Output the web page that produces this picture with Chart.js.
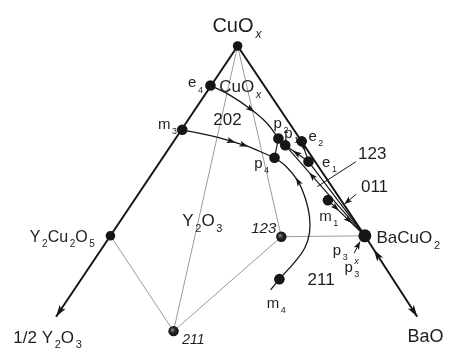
<!DOCTYPE html>
<html>
<head>
<meta charset="utf-8">
<style>
  html, body { margin: 0; padding: 0; background: #fff; }
  canvas { display: block; }
</style>
<script src="https://cdn.jsdelivr.net/npm/chart.js@4/dist/chart.umd.min.js"></script>
</head>
<body>
<canvas id="diagram" width="450" height="355"></canvas>
<script>
// Liquidus projection of the Y2O3 - BaO - CuOx system.
// Diagram plane: x to the right, y upward.

// solid phases
const phaseNames = ['CuOx', 'Y2Cu2O5', 'BaCuO2', '123', '211'];
const phaseX = [238, 107, 369, 283, 172];
const phaseY = [314, 117, 117, 116, 18];

// invariant points of the liquidus surface
const invNames = ['e4', 'm3', 'p2', 'p1', 'e2', 'e1', 'p4', 'm1', 'm4'];
const invX = [210, 181, 280, 287, 304, 311, 276, 331, 281];
const invY = [273, 227, 218, 211, 215, 194, 198, 154, 72];

// open ends of the two oxide axes
const endNames = ['1/2 Y2O3', 'BaO'];
const endX = [51, 423];
const endY = [33, 33];

// univariant curves
const curveE4P2X = [210, 230, 252, 268, 280];
const curveE4P2Y = [273, 263, 248, 234, 218];
const curveM3P4X = [181, 210, 232, 245, 260, 276];
const curveM3P4Y = [227, 221, 215, 211, 205, 198];
const curveM4P4X = [272, 281, 297, 307, 312, 312, 308, 300, 288, 276];
const curveM4P4Y = [61, 72, 90, 104, 120, 137, 155, 174, 189, 198];

// tie lines between solid phases
const tieFrom = ['CuOx', 'CuOx', 'Y2Cu2O5', '211', '123'];
const tieTo = ['211', '123', '211', '123', 'BaCuO2'];

// straight boundary lines between invariant points
const boundFrom = ['p4', 'p2', 'p1', 'e2', 'e1', 'p1', 'm1'];
const boundTo = ['p2', 'p1', 'e1', 'e1', 'BaCuO2', 'BaCuO2', 'BaCuO2'];

const P = {};
phaseNames.forEach((n, i) => { P[n] = { x: phaseX[i], y: phaseY[i] }; });
invNames.forEach((n, i) => { P[n] = { x: invX[i], y: invY[i] }; });
endNames.forEach((n, i) => { P[n] = { x: endX[i], y: endY[i] }; });

const zip = (xs, ys) => xs.map((x, i) => ({ x, y: ys[i] }));
const curves = {
  e4p2: zip(curveE4P2X, curveE4P2Y),
  m3p4: zip(curveM3P4X, curveM3P4Y),
  m4p4: zip(curveM4P4X, curveM4P4Y)
};

const INK = '#161616';
const GREY = '#9a9a9a';

function lineSet(points, color, width, tension, order) {
  return {
    data: points, showLine: true, borderColor: color, borderWidth: width,
    pointRadius: 0, tension: tension || 0, clip: false, fill: false, order: order
  };
}

const datasets = [];
// thin grey tie lines
tieFrom.forEach((a, i) => datasets.push(lineSet([P[a], P[tieTo[i]]], GREY, 1, 0, 3)));
// heavy binary edges
datasets.push(lineSet([P['1/2 Y2O3'], P['Y2Cu2O5'], P['CuOx'], P['BaCuO2'], P['BaO']], INK, 2, 0, 2));
// boundary lines and curves
boundFrom.forEach((a, i) => datasets.push(lineSet([P[a], P[boundTo[i]]], INK, 1.2, 0, 2)));
Object.values(curves).forEach(c => datasets.push(lineSet(c, INK, 1.3, 0.4, 2)));

// points; the two yttrium cuprates get a shaded, bead-like fill
const dotNames = phaseNames.concat(invNames);
const dotRadius = { CuOx: 4.8, Y2Cu2O5: 4.8, BaCuO2: 6.5, '123': 5.2, '211': 5.2 };
const shaded = ['123', '211'];
datasets.push({
  data: dotNames.map(n => P[n]),
  pointRadius: dotNames.map(n => dotRadius[n] || 5.3),
  pointBackgroundColor(ctx) {
    const name = dotNames[ctx.dataIndex];
    if (!shaded.includes(name) || !ctx.chart.chartArea) return INK;
    const c = ctx.chart.ctx;
    const x = ctx.chart.scales.x.getPixelForValue(ctx.raw.x);
    const y = ctx.chart.scales.y.getPixelForValue(ctx.raw.y);
    const g = c.createRadialGradient(x - 1.5, y - 1.5, 0.3, x, y, 5.2);
    g.addColorStop(0, '#8a8a8a');
    g.addColorStop(0.45, '#2a2a2a');
    g.addColorStop(1, '#101010');
    return g;
  },
  pointBorderWidth: 0,
  showLine: false, clip: false, order: 0
});

// arrowheads on straight lines: fraction along from -> to, pointing to "to"
const lineArrows = [
  { from: 'Y2Cu2O5', to: '1/2 Y2O3', t: 1.0, big: true },
  { from: 'BaCuO2', to: 'BaO', t: 1.0, big: true },
  { from: 'BaO', to: 'BaCuO2', t: 0.83, big: true },
  { from: 'e2', to: 'e1', t: 0.5 },
  { from: 'e1', to: 'p1', t: 0.67 },
  { from: 'BaCuO2', to: 'p1', t: 0.7 },
  { from: 'm1', to: 'BaCuO2', t: 0.3 },
  { from: 'm1', to: 'BaCuO2', t: 0.65 }
];
// arrowheads on curves at a vertex, pointing along the curve
const curveArrows = [
  { curve: 'e4p2', i: 2 },
  { curve: 'm3p4', i: 2 },
  { curve: 'm3p4', i: 3 },
  { curve: 'm4p4', i: 7 }
];
// label pointers
const pointers = [
  { a: { x: 360, y: 194 }, b: { x: 320, y: 168 }, head: false },
  { a: { x: 360, y: 160 }, b: { x: 348, y: 150 }, head: true },
  { a: { x: 358, y: 99 }, b: { x: 364, y: 111 }, head: true }
];

// labels: text with _ subscript and ^ superscript, left/baseline anchored
const labels = [
  { t: 'CuO_x', x: 212, y: 329, s: 20 },
  { t: 'CuO_x', x: 219, y: 266, s: 17 },
  { t: 'e_4', x: 187, y: 271, s: 15 },
  { t: 'm_3', x: 156, y: 228, s: 15 },
  { t: '202', x: 213, y: 232, s: 17 },
  { t: 'p_2', x: 275, y: 229, s: 15 },
  { t: 'p_1', x: 286, y: 219, s: 15 },
  { t: 'e_2', x: 311, y: 215, s: 15 },
  { t: 'e_1', x: 325, y: 188, s: 15 },
  { t: 'p_4', x: 255, y: 187, s: 15 },
  { t: '123', x: 362, y: 197, s: 17 },
  { t: '011', x: 365, y: 162, s: 17 },
  { t: 'm_1', x: 322, y: 132, s: 15 },
  { t: 'BaCuO_2', x: 381, y: 109, s: 17 },
  { t: 'p_3', x: 336, y: 97, s: 15 },
  { t: 'p^x_3', x: 348, y: 79, s: 15 },
  { t: '211', x: 310, y: 66, s: 17 },
  { t: 'm_4', x: 268, y: 42, s: 15 },
  { t: 'Y_2O_3', x: 181, y: 127, s: 17 },
  { t: '123', x: 252, y: 120, s: 15, it: true },
  { t: '211', x: 181, y: 5, s: 14, it: true },
  { t: 'Y_2Cu_2O_5', x: 24, y: 111, s: 16 },
  { t: '1/2 Y_2O_3', x: 7, y: 6, s: 17 },
  { t: 'BaO', x: 413, y: 7, s: 18 }
];

const FAMILY = '"Liberation Sans", Arial, Helvetica, sans-serif';

function drawRich(ctx, text, x, y, size, italic) {
  let cx = x, i = 0, run = '';
  const flush = () => {
    if (!run) return;
    ctx.font = (italic ? 'italic ' : '') + size + 'px ' + FAMILY;
    ctx.fillText(run, cx, y);
    cx += ctx.measureText(run).width;
    run = '';
  };
  while (i < text.length) {
    const c = text[i];
    if (c === '_' || c === '^') {
      flush();
      const ch = text[i + 1];
      i += 2;
      const s = Math.round(size * 0.62);
      ctx.font = (/[a-z]/.test(ch) ? 'italic ' : '') + s + 'px ' + FAMILY;
      const dy = c === '_' ? size * 0.34 : -size * 0.55;
      const gap = size * 0.1;
      ctx.fillText(ch, cx + gap, y + dy);
      const w = ctx.measureText(ch).width + gap;
      if (!(c === '^' && text[i] === '_')) cx += w;
    } else {
      run += c;
      i++;
    }
  }
  flush();
}

function head(ctx, tx, ty, ux, uy, len, half) {
  const nx = -uy, ny = ux;
  const bx = tx - ux * len, by = ty - uy * len;
  ctx.beginPath();
  ctx.moveTo(tx, ty);
  ctx.lineTo(bx + nx * half, by + ny * half);
  ctx.lineTo(tx - ux * len * 0.75, ty - uy * len * 0.75);
  ctx.lineTo(bx - nx * half, by - ny * half);
  ctx.closePath();
  ctx.fill();
}

const overlay = {
  id: 'overlay',
  afterDatasetsDraw(chart) {
    const ctx = chart.ctx;
    const sx = chart.scales.x, sy = chart.scales.y;
    const px = p => ({ x: sx.getPixelForValue(p.x), y: sy.getPixelForValue(p.y) });
    ctx.save();
    ctx.fillStyle = INK;
    ctx.strokeStyle = INK;

    lineArrows.forEach(a => {
      const A = px(P[a.from]), B = px(P[a.to]);
      const dx = B.x - A.x, dy = B.y - A.y, L = Math.hypot(dx, dy);
      const tx = A.x + dx * a.t, ty = A.y + dy * a.t;
      head(ctx, tx, ty, dx / L, dy / L, a.big ? 12 : 9, a.big ? 3.6 : 3);
    });

    curveArrows.forEach(a => {
      const c = curves[a.curve];
      const A = px(c[a.i - 1]), M = px(c[a.i]), B = px(c[a.i + 1]);
      const dx = B.x - A.x, dy = B.y - A.y, L = Math.hypot(dx, dy);
      head(ctx, M.x + dx / L * 4, M.y + dy / L * 4, dx / L, dy / L, 9, 3);
    });

    ctx.lineWidth = 1;
    pointers.forEach(p => {
      const A = px(p.a), B = px(p.b);
      ctx.beginPath();
      ctx.moveTo(A.x, A.y);
      ctx.lineTo(B.x, B.y);
      ctx.stroke();
      if (p.head) {
        const dx = B.x - A.x, dy = B.y - A.y, L = Math.hypot(dx, dy);
        head(ctx, B.x, B.y, dx / L, dy / L, 8, 3);
      }
    });

    ctx.fillStyle = '#1e1e1e';
    ctx.textBaseline = 'alphabetic';
    ctx.textAlign = 'left';
    labels.forEach(l => {
      const p = px({ x: l.x, y: l.y });
      drawRich(ctx, l.t, p.x, p.y, l.s, !!l.it);
    });
    ctx.restore();
  }
};

new Chart(document.getElementById('diagram'), {
  type: 'scatter',
  data: { datasets },
  options: {
    responsive: false,
    animation: false,
    events: [],
    layout: { padding: 0 },
    plugins: { legend: { display: false }, tooltip: { enabled: false } },
    scales: {
      x: { type: 'linear', min: 0, max: 450, display: false },
      y: { type: 'linear', min: 0, max: 355, display: false }
    }
  },
  plugins: [overlay]
});
</script>
</body>
</html>
